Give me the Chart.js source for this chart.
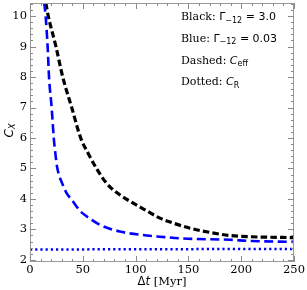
<!DOCTYPE html>
<html><head><meta charset="utf-8">
<script src="https://cdn.jsdelivr.net/npm/chart.js@4"></script>
<style>html,body{margin:0;padding:0;background:#fff}#w{width:307px;height:290px}</style>
</head><body><div id="w"><canvas id="c"></canvas></div>
<script>
// Data
const blackDashX = [15, 17.3, 24.6, 31, 39.5, 48, 55, 63, 72.6, 85.2, 97.8, 110.5, 123, 132, 151.5, 170.5, 189, 208, 250];
const blackDashY = [10.43, 10, 9, 8, 7, 6, 5.5, 5.0, 4.51, 4.13, 3.86, 3.61, 3.37, 3.25, 3.04, 2.90, 2.80, 2.76, 2.73];
const blueDashX = [13.5, 14.8, 16.7, 18, 20.5, 22.5, 24, 25.6, 27.8, 30.5, 34.5, 39.6, 47.3, 54, 66.3, 85.2, 110.5, 123, 145, 189, 208, 250];
const blueDashY = [10.43, 10, 9, 8, 7, 6, 5.5, 5.06, 4.75, 4.51, 4.2, 3.97, 3.61, 3.42, 3.15, 2.93, 2.80, 2.76, 2.70, 2.66, 2.62, 2.59];
const blueDotX = [0, 125, 250];
const blueDotY = [2.34, 2.35, 2.36];
const xTicks = [0, 50, 100, 150, 200, 250];
const yTicks = [2, 3, 4, 5, 6, 7, 8, 9, 10];

const pts = (xs, ys) => xs.map((x, i) => ({x, y: ys[i]}));

const SERIF = '"DejaVu Serif", serif';
const SANS = '"DejaVu Sans", sans-serif';

function runs(ctx, x, y, parts) {
  for (const p of parts) {
    ctx.font = p.f;
    ctx.fillText(p.t, x, y + (p.dy || 0));
    x += ctx.measureText(p.t).width;
  }
  return x;
}
function runsWidth(ctx, parts) {
  let w = 0;
  for (const p of parts) { ctx.font = p.f; w += ctx.measureText(p.t).width; }
  return w;
}

const deco = {
  id: 'deco',
  afterDraw(chart) {
    const {ctx, chartArea: a, scales: {x, y}} = chart;
    ctx.save();
    // frame
    ctx.strokeStyle = '#9a9a9a';
    ctx.lineWidth = 1;
    ctx.strokeRect(a.left + 0.5, a.top + 0.5, a.right - a.left - 1, a.bottom - a.top - 1);
    // ticks
    ctx.strokeStyle = '#8a8a8a';
    ctx.beginPath();
    for (let v = 0; v <= 250; v += 10) {
      const px = Math.round(x.getPixelForValue(v)) + 0.5;
      const L = (v % 50 === 0) ? 6 : 3;
      ctx.moveTo(px, a.bottom); ctx.lineTo(px, a.bottom - L);
      ctx.moveTo(px, a.top); ctx.lineTo(px, a.top + L);
    }
    for (let k = 20; k <= 104; k += 2) {
      const v = k / 10;
      const py = Math.round(y.getPixelForValue(v)) + 0.5;
      const L = (k % 10 === 0) ? 6 : 3;
      ctx.moveTo(a.left, py); ctx.lineTo(a.left + L, py);
      ctx.moveTo(a.right, py); ctx.lineTo(a.right - L, py);
    }
    ctx.stroke();
    // tick labels
    ctx.fillStyle = '#000';
    ctx.font = '11.5px ' + SERIF;
    ctx.textAlign = 'center'; ctx.textBaseline = 'top';
    xTicks.forEach(v => ctx.fillText(String(v), x.getPixelForValue(v), a.bottom + 2));
    ctx.textAlign = 'right'; ctx.textBaseline = 'middle';
    yTicks.forEach(v => ctx.fillText(String(v), a.left - 3, y.getPixelForValue(v)));
    // x title
    ctx.textAlign = 'left'; ctx.textBaseline = 'alphabetic';
    const xt = [
      {t: 'Δ', f: '11.5px ' + SANS},
      {t: 't', f: 'italic 11.5px ' + SANS},
      {t: ' [Myr]', f: '11.5px ' + SERIF}
    ];
    const cx = (a.left + a.right) / 2;
    runs(ctx, cx - runsWidth(ctx, xt) / 2, 285, xt);
    // y title
    ctx.save();
    ctx.translate(13, (a.top + a.bottom) / 2 - 2);
    ctx.rotate(-Math.PI / 2);
    const yt = [
      {t: 'C', f: 'italic 12px ' + SANS},
      {t: 'X', f: 'italic 8.5px ' + SANS, dy: 2}
    ];
    runs(ctx, -runsWidth(ctx, yt) / 2, 0, yt);
    ctx.restore();
    // annotations
    const lx = 181;
    runs(ctx, lx, 20, [
      {t: 'Black: ', f: '11px ' + SERIF},
      {t: 'Γ', f: '11px ' + SANS},
      {t: '−12', f: '8px ' + SANS, dy: 2.5},
      {t: ' = 3.0', f: '11px ' + SANS}
    ]);
    runs(ctx, lx, 41.5, [
      {t: 'Blue: ', f: '11px ' + SERIF},
      {t: 'Γ', f: '11px ' + SANS},
      {t: '−12', f: '8px ' + SANS, dy: 2.5},
      {t: ' = 0.03', f: '11px ' + SANS}
    ]);
    runs(ctx, lx, 63.5, [
      {t: 'Dashed: ', f: '11px ' + SERIF},
      {t: 'C', f: 'italic 11px ' + SANS},
      {t: 'eff', f: '8px ' + SANS, dy: 2.5}
    ]);
    runs(ctx, lx, 85, [
      {t: 'Dotted: ', f: '11px ' + SERIF},
      {t: 'C', f: 'italic 11px ' + SANS},
      {t: 'R', f: '8px ' + SANS, dy: 2.5}
    ]);
    ctx.restore();
  }
};

new Chart(document.getElementById('c'), {
  type: 'line',
  data: {
    datasets: [
      {data: pts(blueDotX, blueDotY), borderColor: '#0000ff', borderWidth: 2.5, borderDash: [2.2, 3], pointRadius: 0, fill: false},
      {data: pts(blueDashX, blueDashY), borderColor: '#0000ff', borderWidth: 2.6, borderDash: [9, 4.5], pointRadius: 0, fill: false, cubicInterpolationMode: 'monotone'},
      {data: pts(blackDashX, blackDashY), borderColor: '#000000', borderWidth: 3.2, borderDash: [6.5, 3.2], pointRadius: 0, fill: false, cubicInterpolationMode: 'monotone'}
    ]
  },
  options: {
    responsive: true, maintainAspectRatio: false, animation: false,
    layout: {padding: {left: 30, right: 13, top: 3, bottom: 28}},
    plugins: {legend: {display: false}, tooltip: {enabled: false}},
    scales: {
      x: {type: 'linear', min: 0, max: 250, display: false},
      y: {type: 'linear', min: 1.93, max: 10.43, display: false}
    }
  },
  plugins: [deco]
});
</script></body></html>
